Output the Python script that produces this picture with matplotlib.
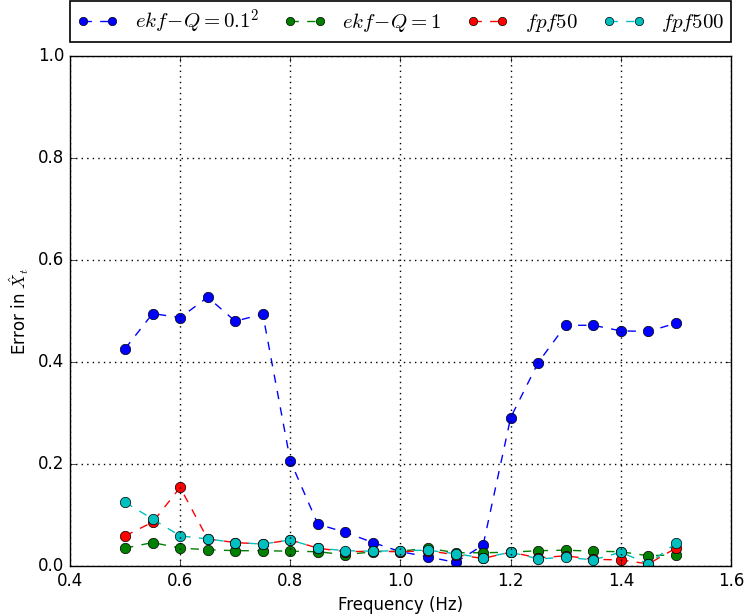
import matplotlib
matplotlib.use("Agg")
import matplotlib.pyplot as plt

plt.style.use("classic")
plt.rcParams["mathtext.fontset"] = "cm"
plt.rcParams["font.family"] = ["DejaVu Sans"]

freq = [0.50, 0.55, 0.60, 0.65, 0.70, 0.75, 0.80, 0.85, 0.90, 0.95, 1.00,
        1.05, 1.10, 1.15, 1.20, 1.25, 1.30, 1.35, 1.40, 1.45, 1.50]

ekf_q_small = [0.426, 0.495, 0.487, 0.527, 0.480, 0.494, 0.206, 0.082, 0.066, 0.046, 0.028,
               0.018, 0.007, 0.041, 0.291, 0.399, 0.472, 0.472, 0.461, 0.460, 0.476]
ekf_q_one = [0.035, 0.046, 0.035, 0.032, 0.030, 0.030, 0.029, 0.028, 0.022, 0.028, 0.029,
             0.035, 0.026, 0.026, 0.027, 0.030, 0.031, 0.029, 0.028, 0.020, 0.022]
fpf50 = [0.059, 0.086, 0.154, 0.053, 0.046, 0.043, 0.051, 0.035, 0.028, 0.029, 0.028,
         0.030, 0.022, 0.015, 0.027, 0.016, 0.020, 0.013, 0.012, 0.004, 0.035]
fpf500 = [0.125, 0.092, 0.059, 0.053, 0.046, 0.043, 0.051, 0.035, 0.030, 0.029, 0.030,
          0.031, 0.024, 0.016, 0.027, 0.014, 0.017, 0.012, 0.027, 0.004, 0.045]

series = [
    (ekf_q_small, "b", r"$ekf\!-\!Q=0.1^2$"),
    (ekf_q_one, "g", r"$ekf\!-\!Q=1$"),
    (fpf50, "r", r"$fpf50$"),
    (fpf500, "c", r"$fpf500$"),
]

W, H = 746, 616
fig = plt.figure(figsize=(W / 100, H / 100), dpi=100, facecolor="white")
ax = fig.add_axes([70 / W, 1 - 566 / H, 661 / W, 510 / H])
ax.set_facecolor("white")

for vals, col, lab in series:
    ax.plot(freq, vals, "o--", color=col, markerfacecolor=col,
            markeredgecolor="black", markersize=7.5, linewidth=1, label=lab)

ax.set_xlim(0.4, 1.6)
ax.set_ylim(0.0, 1.0)
ax.set_xticks([0.4, 0.6, 0.8, 1.0, 1.2, 1.4, 1.6])
ax.set_yticks([0.0, 0.2, 0.4, 0.6, 0.8, 1.0])
ax.grid(True, color="black", linestyle=":", linewidth=1)
ax.tick_params(labelsize=12)
ax.set_xlabel("Frequency (Hz)", fontsize=12)
ax.set_ylabel(r"Error in $\hat{X}_t$", fontsize=12)

leg = ax.legend(loc="center", bbox_to_anchor=(70 / W, 1 - 39 / H, 661 / W, 35 / H),
                bbox_transform=fig.transFigure, ncol=4, mode="expand",
                borderaxespad=0.0, borderpad=0.3, numpoints=2, fontsize=15,
                markerscale=0.8, handlelength=2.0, handletextpad=0.8,
                columnspacing=1.0, fancybox=False, framealpha=1.0)
leg.get_frame().set_linewidth(1.2)

fig.savefig("out.png", dpi=100, facecolor="white")
